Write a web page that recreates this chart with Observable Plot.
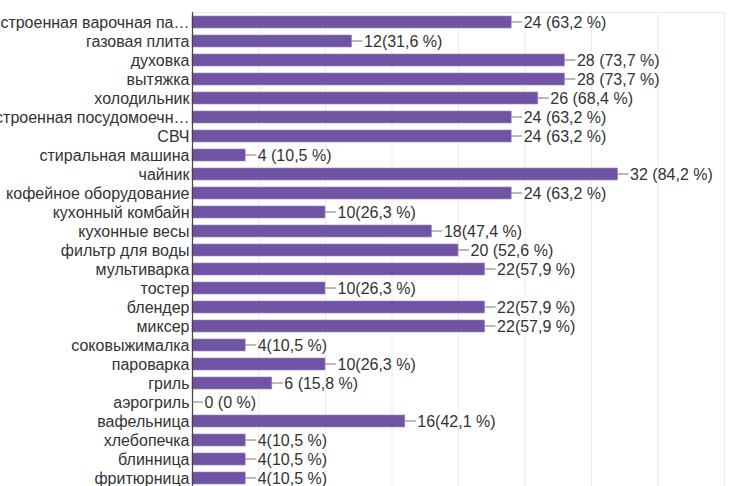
<!DOCTYPE html>
<html>
<head>
<meta charset="utf-8">
<script src="https://cdn.jsdelivr.net/npm/d3@7"></script>
<script src="https://cdn.jsdelivr.net/npm/@observablehq/plot@0.6"></script>
<style>
  html, body { margin: 0; padding: 0; background: #fff; overflow: hidden; }
  #chart svg { display: block; overflow: visible; }
</style>
</head>
<body>
<div id="chart"></div>
<script>
const categories = [
  "встроенная варочная па…", "газовая плита", "духовка", "вытяжка", "холодильник",
  "встроенная посудомоечн…", "СВЧ", "стиральная машина", "чайник", "кофейное оборудование",
  "кухонный комбайн", "кухонные весы", "фильтр для воды", "мультиварка", "тостер",
  "блендер", "миксер", "соковыжималка", "пароварка", "гриль",
  "аэрогриль", "вафельница", "хлебопечка", "блинница", "фритюрница"
];
const counts = [24, 12, 28, 28, 26, 24, 24, 4, 32, 24, 10, 18, 20, 22, 10, 22, 22, 4, 10, 6, 0, 16, 4, 4, 4];
const valueLabels = [
  "24 (63,2 %)", "12(31,6 %)", "28 (73,7 %)", "28 (73,7 %)", "26 (68,4 %)",
  "24 (63,2 %)", "24 (63,2 %)", "4 (10,5 %)", "32 (84,2 %)", "24 (63,2 %)",
  "10(26,3 %)", "18(47,4 %)", "20 (52,6 %)", "22(57,9 %)", "10(26,3 %)",
  "22(57,9 %)", "22(57,9 %)", "4(10,5 %)", "10(26,3 %)", "6 (15,8 %)",
  "0 (0 %)", "16(42,1 %)", "4(10,5 %)", "4(10,5 %)", "4(10,5 %)"
];
const gridTicks = [5, 10, 15, 20, 25, 30, 35, 40];

const data = categories.map((c, i) => ({cat: c, n: counts[i], label: valueLabels[i]}));

const font = "Liberation Sans, Arial, sans-serif";
const plot = Plot.plot({
  width: 730,
  height: 487,
  marginTop: 12,
  marginBottom: 0,
  marginLeft: 192,
  marginRight: 6,
  style: {fontFamily: font, fontSize: "16px", color: "#333", background: "#fff"},
  x: {domain: [0, 40], axis: null},
  y: {domain: categories, paddingInner: 0.37, paddingOuter: 0.185, axis: null},
  marks: [
    Plot.ruleX(gridTicks, {stroke: "#ebebeb", strokeWidth: 1}),
    Plot.barX(data, {y: "cat", x: "n", fill: "#7153a4", stroke: "#9b86c6", strokeWidth: 0.6}),
    Plot.text(data, {y: "cat", x: "n", text: "label", textAnchor: "start", dx: 12,
      fill: "#333", fontSize: 16}),
    Plot.text(data, {y: "cat", x: 0, text: "cat", textAnchor: "end", dx: -3,
      fill: "#333", fontSize: 16}),
    Plot.ruleX([0], {stroke: "#444", strokeWidth: 1.2})
  ]
});
const xs = plot.scale("x"), ys = plot.scale("y");
const svg = d3.select(plot);
const plotTop = 12;
svg.append("g").lower().append("line")
  .attr("x1", xs.apply(0)).attr("x2", xs.apply(40))
  .attr("y1", plotTop + 0.5).attr("y2", plotTop + 0.5)
  .attr("stroke", "#ebebeb");
const conn = svg.append("g");
data.forEach(d => {
  const x0 = xs.apply(d.n), y0 = ys.apply(d.cat) + ys.bandwidth / 2;
  conn.append("line")
    .attr("x1", x0).attr("x2", x0 + 11)
    .attr("y1", y0).attr("y2", y0)
    .attr("stroke", "#777").attr("stroke-width", 1);
});
document.getElementById("chart").appendChild(plot);
</script>
</body>
</html>
